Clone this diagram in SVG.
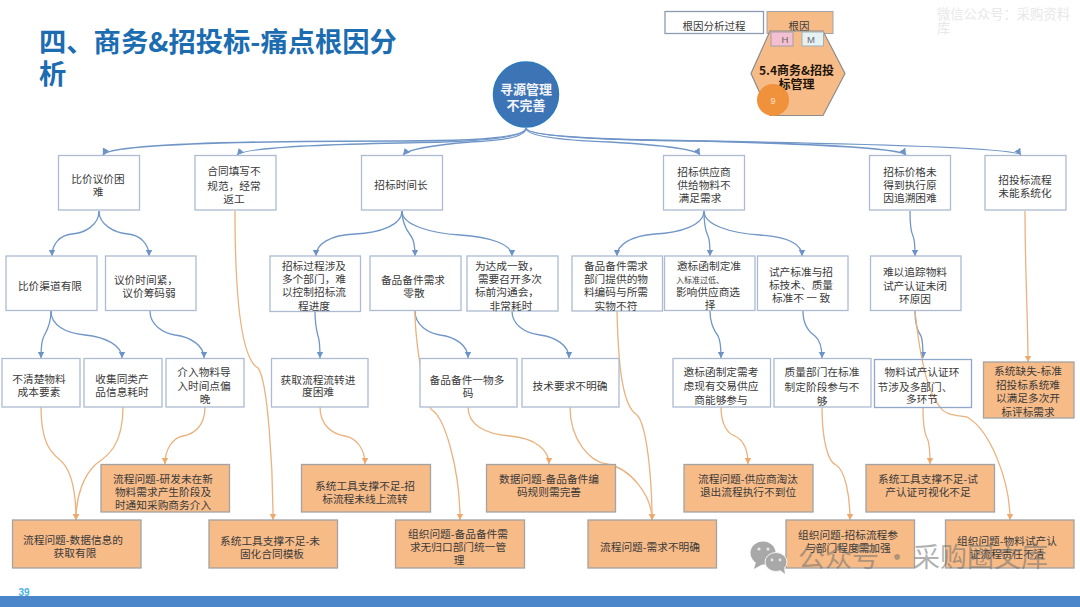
<svg xmlns="http://www.w3.org/2000/svg" width="1080" height="607" viewBox="0 0 1080 607">
<style>
text{font-family:"Noto Sans CJK SC","Noto Sans",sans-serif;font-size:10.7px;fill:#3a3a3a;text-anchor:middle}
.b{fill:#fff;stroke:#adbbd2;stroke-width:1.3}
.o{fill:#f7bb88;stroke:#a3a3a3;stroke-width:1.3}
.cb{fill:none;stroke:#7096c8;stroke-width:1.3;marker-end:url(#ab)}
.co{fill:none;stroke:#eab27e;stroke-width:1.3;marker-end:url(#ao)}
.t{font-size:27.3px;font-weight:700;fill:#1b6cb0;text-anchor:start}
</style>
<defs>
<marker id="ab" markerUnits="userSpaceOnUse" markerWidth="8" markerHeight="8" refX="6.5" refY="3.5" orient="auto"><path d="M0 0L6.5 3.5L0 7Z" fill="#6c93c8"/></marker>
<marker id="ao" markerUnits="userSpaceOnUse" markerWidth="8" markerHeight="8" refX="6.5" refY="3.5" orient="auto"><path d="M0 0L6.5 3.5L0 7Z" fill="#eeaa6c"/></marker>
</defs>
<rect width="1080" height="607" fill="#fff"/>
<rect y="596" width="1080" height="11" fill="#4a86c9"/>
<text x="24" y="596" style="font-size:10px;font-weight:700;fill:#45b2e6;font-family:'Liberation Sans',sans-serif">39</text>
<g id="title"><text class="t" x="39" y="52">四、商务&amp;招投标-痛点根因分</text><text class="t" x="39" y="84">析</text></g>
<text x="937" y="19" style="font-size:13.3px;fill:#e8e8e8;text-anchor:start">微信公众号：采购资料</text>
<text x="937" y="33" style="font-size:13.3px;fill:#e8e8e8;text-anchor:start">库</text>

<g id="connectors">
<path class="cb" style="stroke-width:1.7" d="M526 128Q526 141 400 141Q110 141 103 155"/>
<path class="cb" d="M526 128Q526 142 400 143Q245 146 237 155"/>
<path class="cb" d="M526 128Q526 140 470 142Q410 147 403 155"/>
<path class="cb" d="M526 128Q526 139 610 142Q695 147 700 155"/>
<path class="cb" style="stroke-width:1.7" d="M526 128Q526 139 700 141Q900 146 906 155"/>
<path class="cb" d="M526 128Q526 139 700 141Q1015 146 1021 155"/>
<path class="cb" d="M99 211C99 225 85 233 72 234C60 235 52 244 52 256"/>
<path class="cb" d="M99 211C99 225 115 233 128 234C140 235 149 244 149 256"/>
<path class="cb" d="M402 211C402 225 380 233 355 234C330 235 316 244 316 256"/>
<path class="cb" d="M402 211C402 225 408 232 411 236C414 240 415 248 415 256"/>
<path class="cb" d="M402 211C402 225 430 233 460 235C490 237 512 244 512 256"/>
<path class="cb" d="M704 211C704 225 680 233 655 234C630 236 617 245 617 256"/>
<path class="cb" d="M704 211C704 225 706 232 708 236C710 240 710 248 710 256"/>
<path class="cb" d="M704 211C704 225 730 233 760 235C790 237 802 245 802 256"/>
<path class="cb" d="M910 211C910 225 911 232 913 236C915 240 915 248 915 256"/>
<path class="cb" d="M51 311C51 325 46 332 44 336C41 341 41 350 41 358"/>
<path class="cb" d="M51 311C51 325 65 333 85 335C105 337 122 345 122 358"/>
<path class="cb" d="M150 311C150 325 163 333 175 335C190 337 204 345 204 358"/>
<path class="cb" d="M315 311C315 325 317 332 318 336C320 341 320 350 320 358"/>
<path class="cb" d="M415 311C415 325 428 333 440 335C455 337 468 345 468 358"/>
<path class="cb" d="M512 311C512 325 525 333 540 335C555 337 569 345 569 358"/>
<path class="cb" d="M710 311C710 325 715 332 718 336C721 341 721 350 721 358"/>
<path class="cb" d="M803 311C803 325 809 332 815 336C821 341 822 350 822 358"/>
<path class="cb" d="M915 311C915 325 918 332 921 336C923 341 923 350 923 358"/>
<path class="co" d="M235 211C235 290 240 358 258 368C268 380 273 470 273 520"/>
<path class="co" d="M41 407C41 445 52 453 60 460C72 470 76 495 76 520"/>
<path class="co" d="M123 407C123 445 108 456 96 464C84 475 76 495 76 520"/>
<path class="co" d="M205 407C205 425 195 434 183 436C172 438 165 450 165 464"/>
<path class="co" d="M320 407C320 425 332 434 345 436C357 438 365 450 365 464"/>
<path class="co" d="M415 311C415 340 425 405 432 410C445 418 460 470 460 520"/>
<path class="co" d="M468 407C468 425 485 434 510 436C535 438 549 450 549 464"/>
<path class="co" d="M570 407C570 440 590 462 607 464C630 468 652 495 652 520"/>
<path class="co" d="M617 311C618 350 620 405 637 415C647 425 652 480 652 520"/>
<path class="co" d="M721 407C721 425 728 434 735 436C743 440 748 450 748 464"/>
<path class="co" d="M822 407C822 440 828 462 836 465C845 470 850 495 850 520"/>
<path class="co" d="M923 408C923 425 925 434 927 438C930 443 930 455 930 464"/>
<path class="co" d="M915 311C918 340 925 390 940 407C945 415 955 415 967 417C990 430 1010 480 1010 520"/>
<path class="co" d="M1025 211C1025 270 1028 320 1028 362"/>
</g>

<g id="root"><circle cx="526" cy="94.5" r="32.5" fill="#3d74b6" stroke="#2a79bd" stroke-width="1.5"/><text x="526" y="94" style="font-size:13px;font-weight:700;fill:#f2f4f8">寻源管理</text><text x="526" y="110" style="font-size:13px;font-weight:700;fill:#f2f4f8">不完善</text></g>

<g id="legend1"><rect class="b" x="665" y="11.5" width="98.5" height="22" style="stroke:#8d9ab3"/><text x="714" y="30" style="font-size:10.5px">根因分析过程</text></g>
<g id="legend2"><rect x="767" y="11.5" width="66" height="22" fill="#f7bb88" stroke="#a3a3a3"/><text x="799" y="30" style="font-size:10.5px">根因</text></g>
<g id="hex"><polygon points="770,31 823,31 845,73.5 823,115.5 770,115.5 751,73.5" fill="#f7bb88" stroke="#8c8c8c" stroke-width="1.2"/>
<rect x="771" y="32" width="22" height="14" fill="#f4bfd0" stroke="#a0a0b0"/><text x="785" y="43" style="font-size:9.5px;fill:#666;font-family:'Liberation Sans',sans-serif">H</text>
<rect x="802" y="32" width="21.5" height="14" fill="#e6f1f1" stroke="#a0b0b8"/><text x="811" y="43" style="font-size:9.5px;fill:#667;font-family:'Liberation Sans',sans-serif">M</text>
<text x="796.5" y="75" style="font-size:12px;font-weight:700;fill:#1d1408">5.4商务&amp;招投</text><text x="796.5" y="89" style="font-size:12px;font-weight:700;fill:#1d1408">标管理</text>
<circle cx="773" cy="100" r="16" fill="#f0913c"/><text x="773" y="104" style="font-size:9px;fill:#fbe3cc;font-family:'Liberation Sans',sans-serif">9</text></g>

<g id="n1"><rect class="b" x="58.5" y="155.5" width="81" height="54.5"/><text x="98" y="183">比价议价困</text><text x="98" y="196">难</text></g>
<g id="n2"><rect class="b" x="195" y="155.5" width="81" height="54.5"/><text x="234" y="175">合同填写不</text><text x="234" y="190">规范，经常</text><text x="234" y="203">返工</text></g>
<g id="n3"><rect class="b" x="361.5" y="155.5" width="81" height="54.5"/><text x="401" y="189">招标时间长</text></g>
<g id="n4"><rect class="b" x="663.5" y="155.5" width="81" height="54.5"/><text x="704" y="176">招标供应商</text><text x="704" y="189">供给物料不</text><text x="700" y="202">满足需求</text></g>
<g id="n5"><rect class="b" x="869.5" y="155.5" width="81" height="54.5"/><text x="910" y="176">招标价格未</text><text x="910" y="189">得到执行原</text><text x="910" y="202">因追溯困难</text></g>
<g id="n6"><rect class="b" x="985" y="155.5" width="81" height="54.5"/><text x="1025" y="184">招投标流程</text><text x="1025" y="197">未能系统化</text></g>

<g id="n7"><rect class="b" x="6" y="256" width="91" height="54.5"/><text x="50" y="290">比价渠道有限</text></g>
<g id="n8"><rect class="b" x="105.5" y="256" width="90.5" height="54.5"/><text x="146" y="284">议价时间紧，</text><text x="149" y="297">议价筹码弱</text></g>
<g id="n9"><rect class="b" x="270" y="256" width="90.5" height="55.5"/><text x="314" y="270">招标过程涉及</text><text x="314" y="283">多个部门，难</text><text x="314" y="296">以控制招标流</text><text x="314" y="310">程进度</text></g>
<g id="n10"><rect class="b" x="370" y="256" width="91" height="54.5"/><text x="413" y="284">备品备件需求</text><text x="414" y="297">零散</text></g>
<g id="n11"><rect class="b" x="467" y="256" width="91" height="55"/><text x="507" y="270">为达成一致，</text><text x="510" y="283">需要召开多次</text><text x="507" y="296">标前沟通会，</text><text x="511" y="310">非常耗时</text></g>
<g id="n12"><rect class="b" x="572" y="256" width="90.5" height="55"/><text x="616" y="270">备品备件需求</text><text x="616" y="283">部门提供的物</text><text x="616" y="296">料编码与所需</text><text x="616" y="310">实物不符</text></g>
<g id="n13"><rect class="b" x="664.5" y="256" width="90.5" height="54.5"/><text x="709" y="270">邀标函制定准</text><text x="700" y="283" style="font-size:8px">入标准过低、</text><text x="708" y="296">影响供应商选</text><text x="710" y="309">择</text></g>
<g id="n14"><rect class="b" x="757.5" y="256" width="90.5" height="54.5"/><text x="801" y="276">试产标准与招</text><text x="801" y="289">标技术、质量</text><text x="801" y="302">标准不 一 致</text></g>
<g id="n15"><rect class="b" x="870.5" y="256" width="90.5" height="54.5"/><text x="915" y="276">难以追踪物料</text><text x="915" y="290">试产认证未闭</text><text x="915" y="303">环原因</text></g>

<g id="n16"><rect class="b" x="2" y="358.5" width="78" height="48.5"/><text x="39" y="383">不清楚物料</text><text x="39" y="395.5">成本要素</text></g>
<g id="n17"><rect class="b" x="84" y="358.5" width="78" height="48.5"/><text x="122" y="383">收集同类产</text><text x="122" y="396">品信息耗时</text></g>
<g id="n18"><rect class="b" x="166" y="358.5" width="78" height="48.5"/><text x="204" y="376">介入物料导</text><text x="204" y="390">入时间点偏</text><text x="205" y="403">晚</text></g>
<g id="n19"><rect class="b" x="271.5" y="358.5" width="96.5" height="48.5"/><text x="318" y="384">获取流程流转进</text><text x="318" y="396">度困难</text></g>
<g id="n20"><rect class="b" x="420" y="358.5" width="97" height="48.5"/><text x="467" y="384">备品备件一物多</text><text x="468" y="397">码</text></g>
<g id="n21"><rect class="b" x="522" y="358.5" width="97" height="48.5"/><text x="570" y="390">技术要求不明确</text></g>
<g id="n22"><rect class="b" x="673" y="358.5" width="97.5" height="48.5"/><text x="721" y="376">邀标函制定需考</text><text x="721" y="389.5">虑现有交易供应</text><text x="721" y="404">商能够参与</text></g>
<g id="n23"><rect class="b" x="774" y="358.5" width="97" height="48.5"/><text x="822" y="376">质量部门在标准</text><text x="822" y="391">制定阶段参与不</text><text x="822" y="405">够</text></g>
<g id="n24"><rect x="874.5" y="359.5" width="97" height="48" fill="none" stroke="#8fa8cc" stroke-width="1.3"/><text x="922" y="376">物料试产认证环</text><text x="915" y="391">节涉及多部门、</text><text x="922" y="403">多环节</text></g>
<g id="n25"><rect class="o" x="983.5" y="362" width="90.5" height="56"/><text x="1028" y="375">系统缺失-标准</text><text x="1028" y="389">招投标系统难</text><text x="1028" y="402">以满足多次开</text><text x="1028" y="416">标评标需求</text></g>

<g id="n26"><rect class="o" x="101" y="464.5" width="128.5" height="47.5"/><text x="163" y="482.5">流程问题-研发未在新</text><text x="163" y="496">物料需求产生阶段及</text><text x="163" y="509">时通知采购商务介入</text></g>
<g id="n27"><rect class="o" x="301.5" y="464.5" width="129" height="47.5"/><text x="365" y="489.5">系统工具支撑不足-招</text><text x="365" y="502.5">标流程未线上流转</text></g>
<g id="n28"><rect class="o" x="486.5" y="464.5" width="129" height="47.5"/><text x="549" y="483">数据问题-备品备件编</text><text x="549" y="496">码规则需完善</text></g>
<g id="n29"><rect class="o" x="684" y="464.5" width="129" height="47.5"/><text x="748" y="483">流程问题-供应商淘汰</text><text x="748" y="496">退出流程执行不到位</text></g>
<g id="n30"><rect class="o" x="866" y="464.5" width="128.5" height="47.5"/><text x="928" y="483">系统工具支撑不足-试</text><text x="928" y="496">产认证可视化不足</text></g>
<g id="n31"><rect class="o" x="12.5" y="520" width="128.5" height="48"/><text x="73" y="544">流程问题-数据信息的</text><text x="75" y="557">获取有限</text></g>
<g id="n32"><rect class="o" x="209" y="520" width="128.5" height="48"/><text x="270" y="545">系统工具支撑不足-未</text><text x="272" y="558">固化合同模板</text></g>
<g id="n33"><rect class="o" x="395.5" y="520" width="129" height="48"/><text x="458" y="538">组织问题-备品备件需</text><text x="458" y="551">求无归口部门统一管</text><text x="459" y="564">理</text></g>
<g id="n34"><rect class="o" x="588" y="520" width="128.5" height="48"/><text x="650" y="551">流程问题-需求不明确</text></g>
<g id="n35"><rect class="o" x="786" y="520" width="128.5" height="48"/><text x="848" y="539">组织问题-招标流程参</text><text x="848" y="552">与部门程度需加强</text></g>
<g id="n36"><rect class="o" x="945.5" y="520" width="128.5" height="48"/><text x="1007" y="545">组织问题-物料试产认</text><text x="1007" y="558">证流程责任不清</text></g>

<g id="watermark">
<ellipse cx="763" cy="553" rx="12.5" ry="11.5" fill="#a8a8a8"/><path d="M756 562L754 569L763 564Z" fill="#a8a8a8"/>
<circle cx="759" cy="549" r="1.6" fill="#e8e8e8"/><circle cx="768" cy="549" r="1.6" fill="#e8e8e8"/>
<ellipse cx="776" cy="562" rx="11" ry="9.5" fill="#a8a8a8" stroke="#f4f4f4"/><path d="M780 570L785 574L784 567Z" fill="#a8a8a8"/>
<circle cx="772" cy="560" r="1.4" fill="#e8e8e8"/><circle cx="780" cy="560" r="1.4" fill="#e8e8e8"/>
<text x="798" y="567" style="font-size:27px;fill:#6e6e6e;fill-opacity:.55;text-anchor:start">公众号</text>
<text x="897" y="567" style="font-size:27px;fill:#6e6e6e;fill-opacity:.55">·</text>
<text x="913" y="567" style="font-size:27px;fill:#6e6e6e;fill-opacity:.55;text-anchor:start">采购圈文库</text>
</g>
</svg>
